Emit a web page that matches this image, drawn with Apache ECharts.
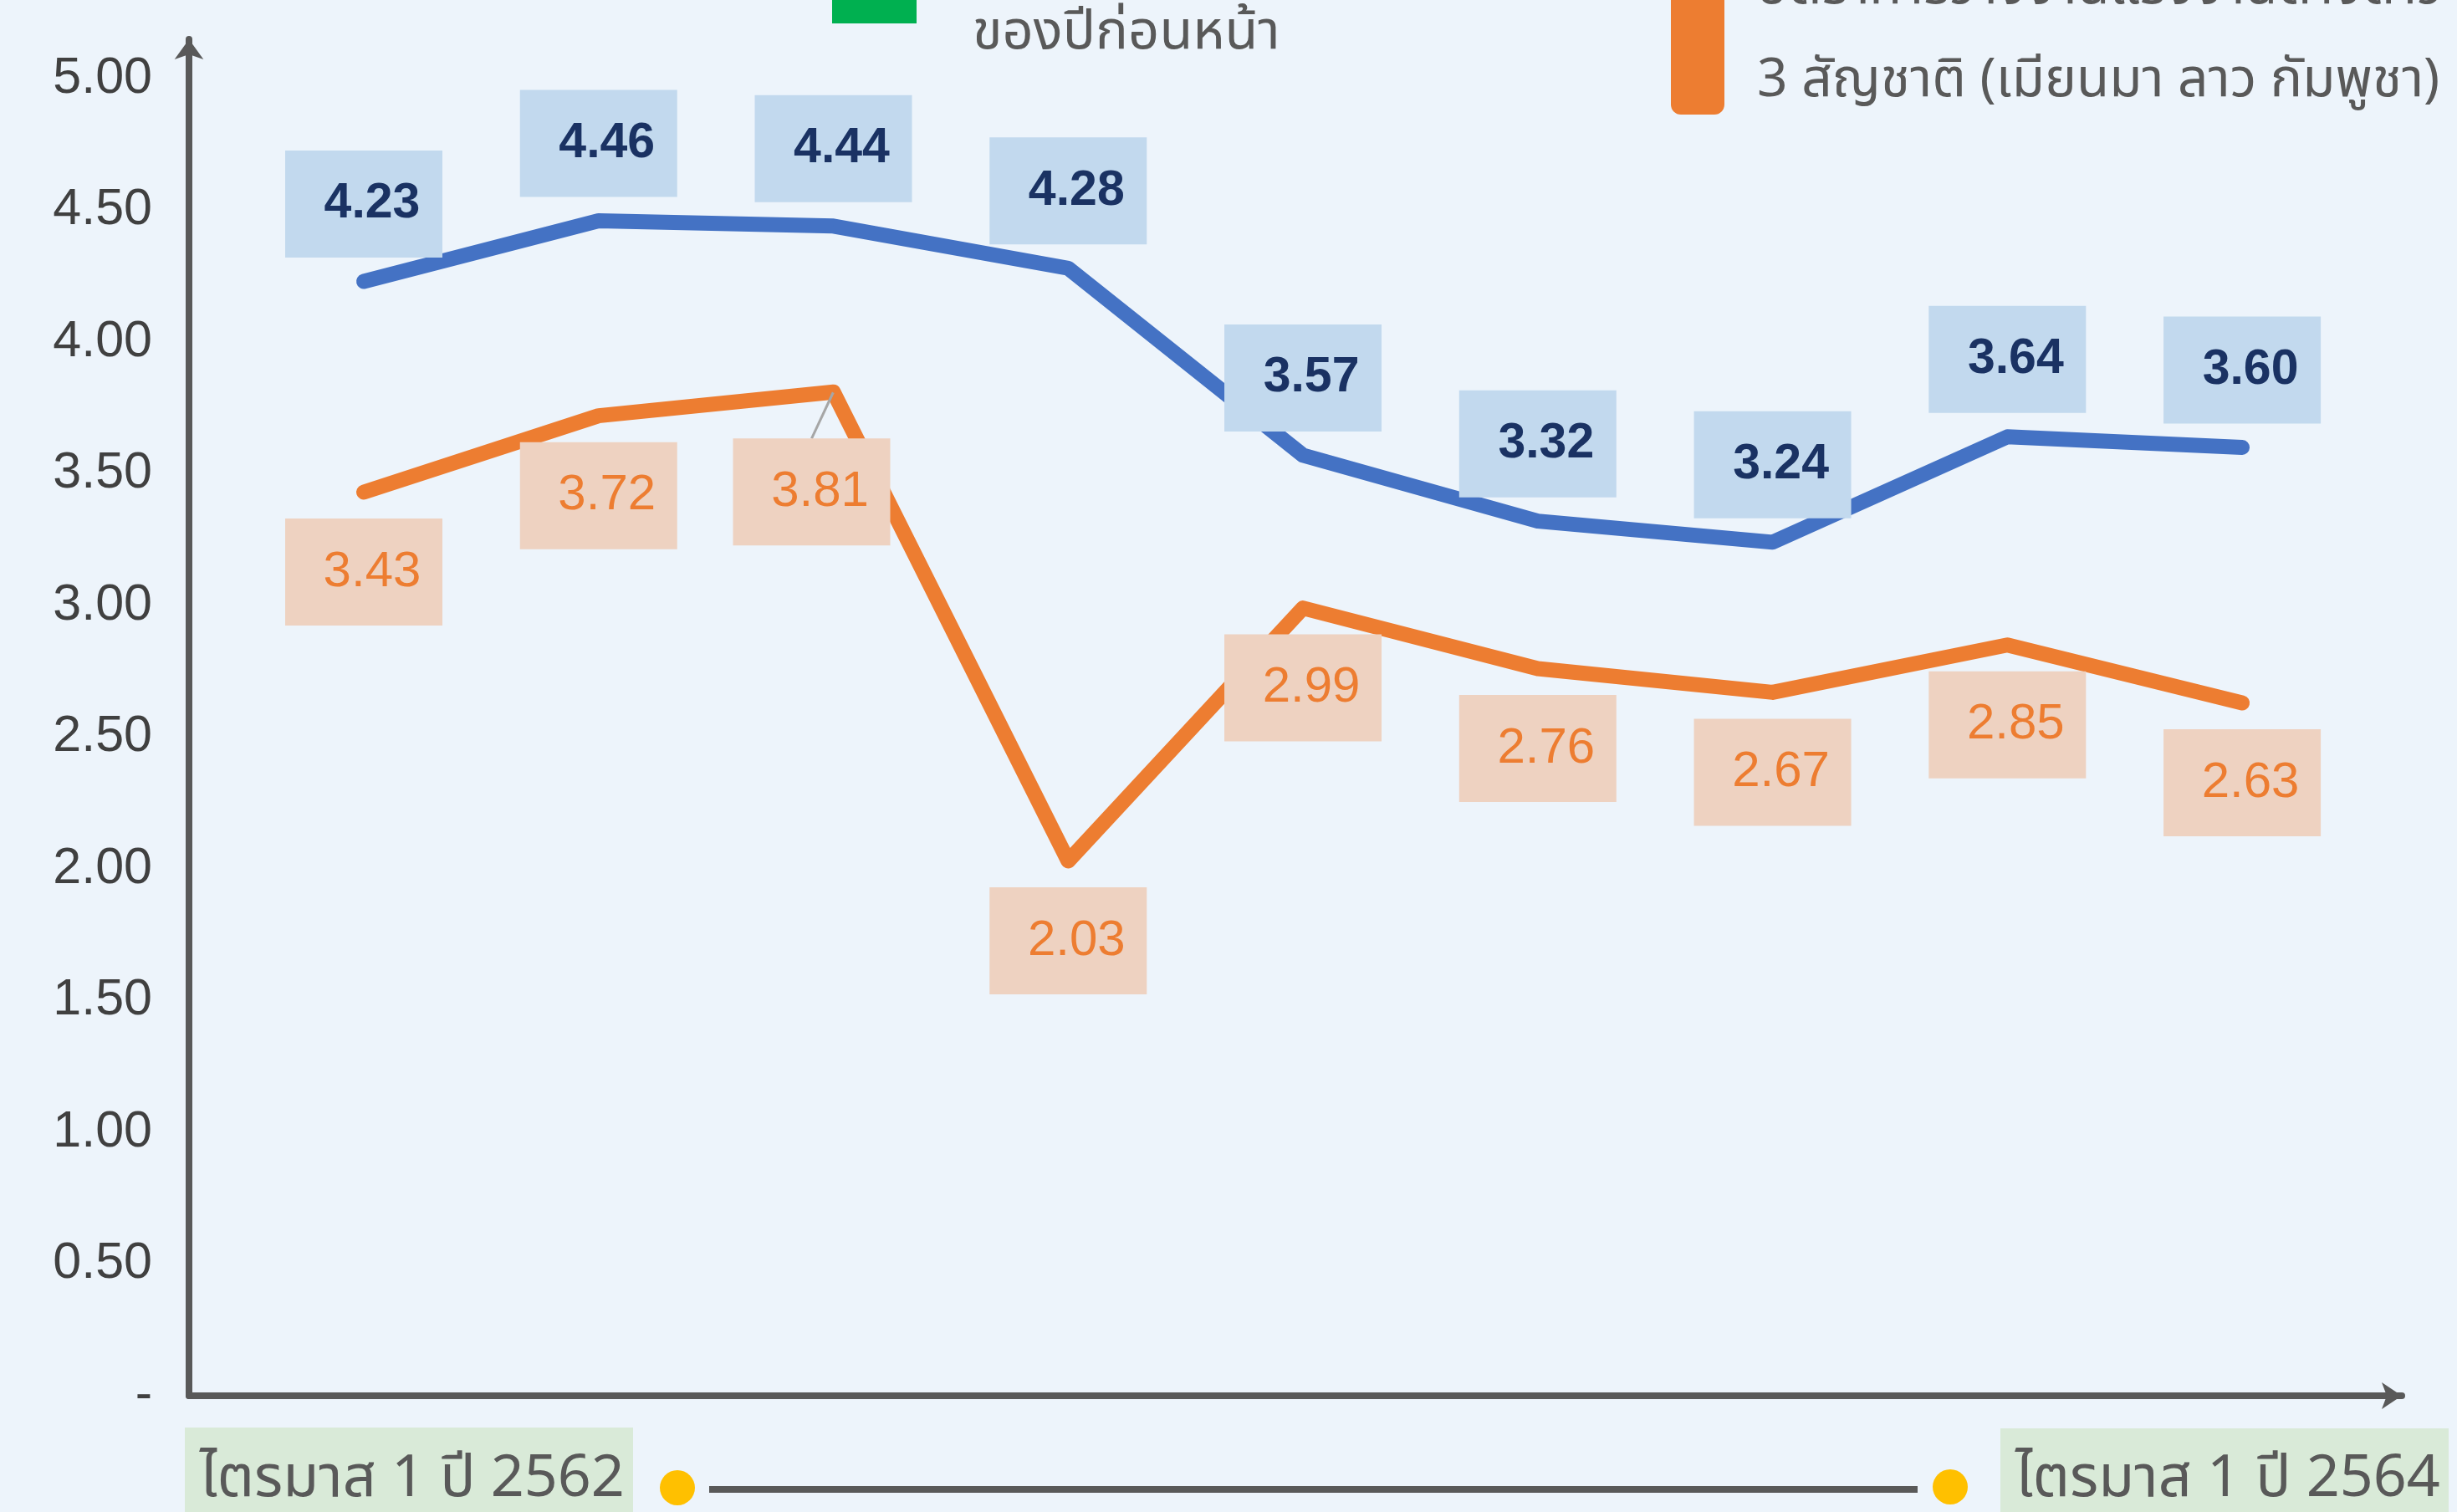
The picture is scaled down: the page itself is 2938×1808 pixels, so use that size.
<!DOCTYPE html>
<html>
<head>
<meta charset="utf-8">
<script src="https://cdn.jsdelivr.net/npm/echarts@6/dist/echarts.min.js"></script>
<style>
  html, body { margin: 0; padding: 0; background: #EDF4FB; }
  #chart { width: 2938px; height: 1808px; }
</style>
</head>
<body>
<div id="chart"></div>
<script>
// ไตรมาส 1/2562 ถึง ไตรมาส 1/2564
var quarters = [
  "ไตรมาส 1 ปี 2562", "ไตรมาส 2 ปี 2562", "ไตรมาส 3 ปี 2562", "ไตรมาส 4 ปี 2562",
  "ไตรมาส 1 ปี 2563", "ไตรมาส 2 ปี 2563", "ไตรมาส 3 ปี 2563", "ไตรมาส 4 ปี 2563",
  "ไตรมาส 1 ปี 2564"
];
var blueValues = [4.23, 4.46, 4.44, 4.28, 3.57, 3.32, 3.24, 3.64, 3.60];
var orangeValues = [3.43, 3.72, 3.81, 2.03, 2.99, 2.76, 2.67, 2.85, 2.63];
var blueName = "อัตราการว่างงานรวม";
var orangeName = "อัตราการว่างงานแรงงานต่างด้าว 3 สัญชาติ (เมียนมา ลาว กัมพูชา)";
var legendText = "ของปีก่อนหน้า";
var legendOrangeTop = "อัตราการว่างงานแรงงานต่างด้าว";
var legendOrange = "3 สัญชาติ (เมียนมา ลาว กัมพูชา)";
var startLabel = quarters[0];
var endLabel = quarters[quarters.length - 1];

var thaiFont = "'Noto Sans Thai', 'Noto Sans Thai Looped', Loma, Garuda, Sarabun, Tahoma, sans-serif";

// จุดที่ป้ายถูกเลื่อน (3.81)
var movedIndex = 2;

var blueData = blueValues.map(function (v, i) { return [i, v]; });
var orangeData = orangeValues.map(function (v, i) {
  if (i === movedIndex) {
    return { value: [i, v], labelLine: { show: true } };
  }
  return [i, v];
});

var myChart = echarts.init(document.getElementById("chart"));

var option = {
  backgroundColor: "#EDF4FB",
  animation: false,
  grid: { left: 226, right: 66, top: 47, bottom: 139 },
  xAxis: {
    type: "value",
    min: -0.7444,
    max: 8.68,
    axisLine: {
      onZero: false,
      symbol: ["none", "arrow"],
      symbolSize: [24, 24],
      lineStyle: { color: "#595959", width: 8 }
    },
    axisTick: { show: false },
    axisLabel: { show: false },
    splitLine: { show: false }
  },
  yAxis: {
    type: "value",
    min: 0,
    max: 5.149,
    interval: 0.5,
    axisLine: {
      show: true,
      onZero: false,
      symbol: ["none", "arrow"],
      symbolSize: [26, 24],
      lineStyle: { color: "#595959", width: 8 }
    },
    axisTick: { show: false },
    splitLine: { show: false },
    axisLabel: {
      showMaxLabel: false,
      margin: 44,
      color: "#404040",
      fontFamily: "Liberation Sans",
      fontSize: 61,
      formatter: function (v) {
        if (v === 0) return "-";
        if (Math.abs(v * 2 - Math.round(v * 2)) > 0.001) return "";
        return v.toFixed(2);
      }
    }
  },
  series: [
    {
      name: blueName,
      type: "line",
      data: blueData,
      symbol: "circle",
      symbolSize: 1,
      itemStyle: { color: "#4472C4" },
      lineStyle: { color: "#4472C4", width: 18, cap: "round", join: "round" },
      label: {
        show: true,
        position: "top",
        distance: 28,
        color: "#1A3263",
        fontFamily: "Liberation Sans",
        fontWeight: "bold",
        fontSize: 59,
        lineHeight: 58,
        backgroundColor: "#C2D9EE",
        padding: [35, 25, 35, 45],
        width: 118,
        align: "center",
        formatter: function (p) { return p.value[1].toFixed(2); }
      }
    },
    {
      name: orangeName,
      type: "line",
      data: orangeData,
      symbol: "circle",
      symbolSize: 1,
      itemStyle: { color: "#ED7D31" },
      lineStyle: { color: "#ED7D31", width: 18, cap: "round", join: "round" },
      label: {
        show: true,
        position: "bottom",
        distance: 31,
        color: "#ED7D31",
        fontFamily: "Liberation Sans",
        fontSize: 60,
        lineHeight: 58,
        backgroundColor: "#EED2C1",
        padding: [35, 25, 35, 45],
        width: 118,
        align: "center",
        formatter: function (p) { return p.value[1].toFixed(2); }
      },
      labelLine: {
        show: false,
        lineStyle: { color: "#A6A6A6", width: 3 }
      },
      labelLayout: function (params) {
        if (params.dataIndex === movedIndex) {
          return { dx: -26, dy: 24 };
        }
      }
    }
  ],
  graphic: [
    // ส่วนคำอธิบาย (ถูกตัดขอบบน)
    { type: "rect", left: 995, top: -20, shape: { width: 101, height: 48 }, style: { fill: "#00B050" } },
    { type: "text", left: 1163, top: 12, style: { text: legendText, font: "65px " + thaiFont, fill: "#595959" } },
    { type: "rect", left: 1998, top: -40, shape: { width: 64, height: 177, r: [0, 0, 12, 12] }, style: { fill: "#ED7D31" } },
    { type: "text", left: 2101, top: -41, style: { text: legendOrangeTop, font: "64px " + thaiFont, fill: "#595959" } },
    { type: "text", left: 2101, top: 70, style: { text: legendOrange, font: "64px " + thaiFont, fill: "#595959" } },
    // แถบช่วงเวลาด้านล่าง
    { type: "rect", left: 221, top: 1707, shape: { width: 536, height: 110 }, style: { fill: "#D9EAD8" } },
    { type: "text", left: 239, top: 1740, style: { text: startLabel, font: "70px " + thaiFont, fill: "#595959" } },
    { type: "circle", shape: { cx: 810, cy: 1779, r: 21 }, style: { fill: "#FFC000" } },
    { type: "line", shape: { x1: 848, y1: 1781, x2: 2293, y2: 1781 }, style: { stroke: "#595959", lineWidth: 8 } },
    { type: "circle", shape: { cx: 2332, cy: 1778, r: 21 }, style: { fill: "#FFC000" } },
    { type: "rect", left: 2392, top: 1708, shape: { width: 536, height: 110 }, style: { fill: "#D9EAD8" } },
    { type: "text", left: 2410, top: 1740, style: { text: endLabel, font: "70px " + thaiFont, fill: "#595959" } }
  ]
};

myChart.setOption(option);
</script>
</body>
</html>
